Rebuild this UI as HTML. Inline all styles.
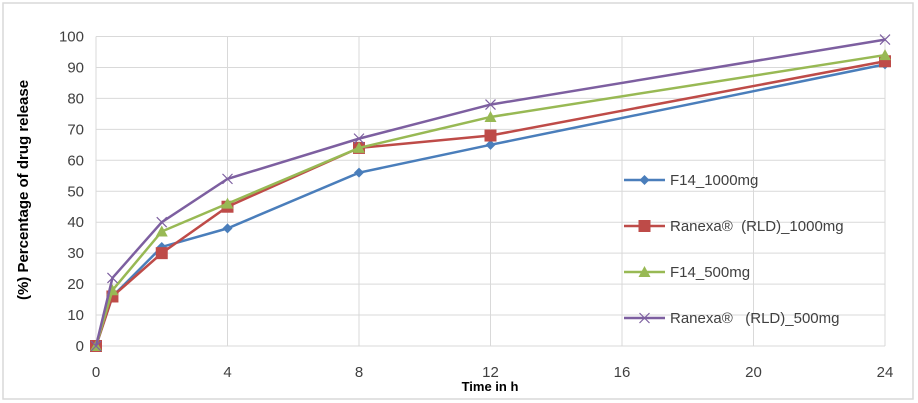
<!DOCTYPE html>
<html><head><meta charset="utf-8"><style>
body{margin:0;background:#fff;}
svg{display:block;font-family:"Liberation Sans",sans-serif;}
</style></head><body>
<svg id="chart" width="918" height="403">
<rect x="3" y="3" width="910" height="396" fill="#fff" stroke="#d9d9d9" stroke-width="1.5"/>
<g id="grid"></g><g id="axes"></g><g id="series"></g><g id="legend"></g>
<text x="28" y="190" transform="rotate(-90 28 190)" text-anchor="middle" font-size="15" font-weight="bold" fill="#000">(%) Percentage of drug release</text>
<text x="490" y="391" text-anchor="middle" font-size="13" font-weight="bold" fill="#000">Time in h</text>
</svg>
<script>
const times=[0,0.5,2,4,8,12,24];
const f14_1000=[0,16,32,38,56,65,91];
const ranexa_1000=[0,16,30,45,64,68,92];
const f14_500=[0,18,37,46,64,74,94];
const ranexa_500=[0,22,40,54,67,78,99];
const xTicks=[0,4,8,12,16,20,24];
const yTicks=[0,10,20,30,40,50,60,70,80,90,100];
const seriesNames=["F14_1000mg","Ranexa\u00AE  (RLD)_1000mg","F14_500mg","Ranexa\u00AE   (RLD)_500mg"];
const NS="http://www.w3.org/2000/svg";
const X0=96,X1=885,Y0=346,Y1=36.5;
const xs=v=>X0+(X1-X0)*v/24;
const ys=v=>Y0-(Y0-Y1)*v/100;
function mk(t,a,p){const e=document.createElementNS(NS,t);for(const k in a)e.setAttribute(k,a[k]);p.appendChild(e);return e;}
const grid=document.getElementById('grid'),axes=document.getElementById('axes');
yTicks.forEach(v=>{
 const l=mk('line',{x1:X0,x2:X1,y1:ys(v),y2:ys(v),stroke:'#d9d9d9','stroke-width':1},grid);
 
 
 const t=mk('text',{x:X0-12,y:ys(v)+5,'text-anchor':'end','font-size':15,fill:'#404040'},axes);
 t.textContent=v;
 
 
});
xTicks.forEach(v=>{
 const l=mk('line',{x1:xs(v),x2:xs(v),y1:Y1,y2:Y0,stroke:'#d9d9d9','stroke-width':1},grid);
 
 
 const t=mk('text',{x:xs(v),y:Y0+31,'text-anchor':'middle','font-size':15,fill:'#404040'},axes);
 t.textContent=v;
 
 
});
const colors=['#4a7ebb','#be4b48','#98b954','#7d5fa0'];
const data=[f14_1000,ranexa_1000,f14_500,ranexa_500];
const markers=['diamond','square','triangle','cross'];
function marker(type,x,y,c,p){
 let e;
 if(type==='diamond')e=mk('path',{d:`M${x} ${y-5}L${x+5} ${y}L${x} ${y+5}L${x-5} ${y}Z`,fill:c},p);
 else if(type==='square')e=mk('rect',{x:x-6,y:y-6,width:12,height:12,fill:c},p);
 else if(type==='triangle')e=mk('path',{d:`M${x} ${y-6}L${x+6} ${y+5}L${x-6} ${y+5}Z`,fill:c},p);
 else e=mk('path',{d:`M${x-5} ${y-5}L${x+5} ${y+5}M${x-5} ${y+5}L${x+5} ${y-5}`,stroke:c,'stroke-width':1.2,fill:'none'},p);
 return e;
}
const sg=document.getElementById('series');
data.forEach((arr,i)=>{
 const g=mk('g',{},sg);
 
 
 const pl=mk('polyline',{points:arr.map((v,j)=>xs(times[j])+','+ys(v)).join(' '),fill:'none',stroke:colors[i],'stroke-width':2.5},g);
 
 
 arr.forEach((v,j)=>{
  const m=marker(markers[i],xs(times[j]),ys(v),colors[i],g);
  
  
 });
});
const lg=document.getElementById('legend');
seriesNames.forEach((n,i)=>{
 const y=180+i*46;
 const g=mk('g',{},lg);
 
 
 mk('line',{x1:624,x2:665,y1:y,y2:y,stroke:colors[i],'stroke-width':2.5},g);
 marker(markers[i],644.5,y,colors[i],g);
 const t=mk('text',{x:670,y:y+5,'font-size':15,fill:'#404040'},g);
 t.textContent=n;
 t.style.whiteSpace='pre';
});
</script>
</body></html>
